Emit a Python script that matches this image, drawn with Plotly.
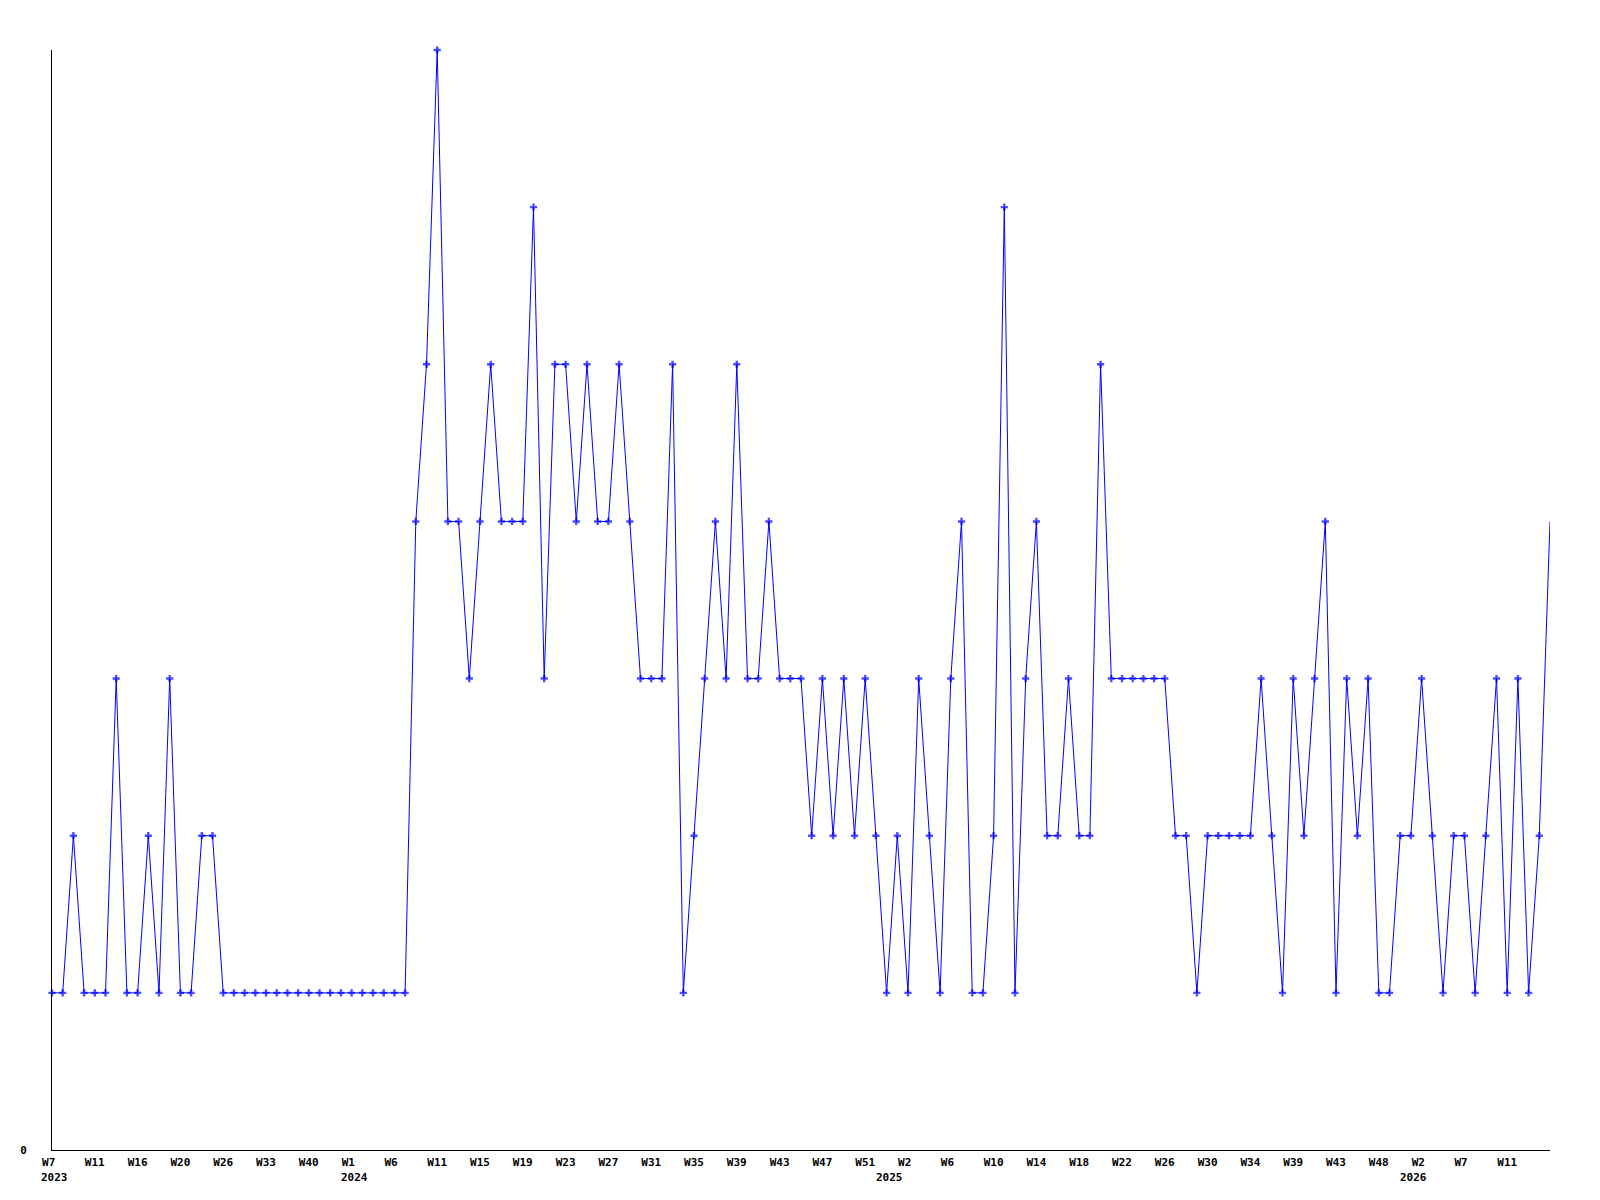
import plotly.graph_objects as go

# Weekly values (one per plotted week)
values = (
    [1, 1, 2, 1, 1, 1, 3, 1, 1, 2, 1, 3, 1, 1, 2, 2, 1]
    + [1] * 17
    + [4, 5, 7, 4, 4, 3, 4, 5, 4, 4, 4, 6, 3, 5, 5, 4, 5, 4, 4, 5, 4, 3, 3, 3, 5,
       1, 2, 3, 4, 3, 5, 3, 3, 4]
    + [3, 3, 3, 2, 3, 2, 3, 2, 3, 2, 1, 2, 1, 3, 2, 1, 3, 4, 1, 1, 2, 6, 1, 3, 4,
       2, 2, 3, 2, 2, 5, 3, 3, 3, 3, 3, 3]
    + [2, 2, 1, 2, 2, 2, 2, 2, 3, 2, 1, 3, 2, 3, 4, 1, 3, 2, 3, 1, 1, 2, 2, 3, 2,
       1, 2, 2, 1, 2, 3, 1, 3, 1, 2, 4]
)

# Week tick labels (every 4th plotted week)
week_labels = ["W7", "W11", "W16", "W20", "W26", "W33", "W40", "W1", "W6", "W11",
               "W15", "W19", "W23", "W27", "W31", "W35", "W39", "W43", "W47", "W51",
               "W2", "W6", "W10", "W14", "W18", "W22", "W26", "W30", "W34", "W39",
               "W43", "W48", "W2", "W7", "W11"]

# Year labels and the plotted week where each year starts
year_labels = ["2023", "2024", "2025", "2026"]
year_start = [0, 28, 78, 127]

n = len(values)
x = list(range(n))
tick_step = 4
tickvals = list(range(0, tick_step * len(week_labels), tick_step))
# pad to 3 monospace chars so the centred label starts 10px left of the tick
ticktext = [w + "\u00a0" * (3 - len(w)) for w in week_labels]

FONT = dict(family="DejaVu Sans Mono", size=11, color="black")

marker_sizes = [6] * (n - 1) + [0]

fig = go.Figure()
fig.add_trace(go.Scatter(
    x=x, y=values, mode="lines+markers",
    line=dict(color="#0000ff", width=1),
    marker=dict(symbol="cross", size=marker_sizes, color="#0000ff",
                line=dict(width=0)),
    cliponaxis=False,
    hoverinfo="x+y",
))

for yl, xi in zip(year_labels, year_start):
    fig.add_annotation(
        x=xi, xref="x", y=0, yref="paper",
        text="<b>%s</b>" % yl, showarrow=False,
        xanchor="left", yanchor="middle", xshift=-13, yshift=-27,
        font=FONT,
    )

# the page body adds an 8px offset, so the figure is shrunk to compensate
fig.update_layout(
    width=1592, height=1192,
    margin=dict(l=42, r=50, t=42, b=50),
    paper_bgcolor="white", plot_bgcolor="white",
    showlegend=False,
    font=FONT,
)
fig.update_xaxes(
    range=[0, n - 1], showgrid=False, zeroline=False,
    showline=True, linecolor="black", linewidth=1,
    tickmode="array", tickvals=tickvals,
    ticktext=["<b>%s</b>" % t for t in ticktext],
    ticks="", tickfont=FONT, ticklabelstandoff=2,
)
fig.update_yaxes(
    range=[0, 7], showgrid=False, zeroline=False,
    showline=True, linecolor="black", linewidth=1,
    tickmode="array", tickvals=[0], ticktext=["<b>0</b>"],
    ticks="", tickfont=FONT, ticklabelstandoff=22,
)

fig.write_html("out.html")
